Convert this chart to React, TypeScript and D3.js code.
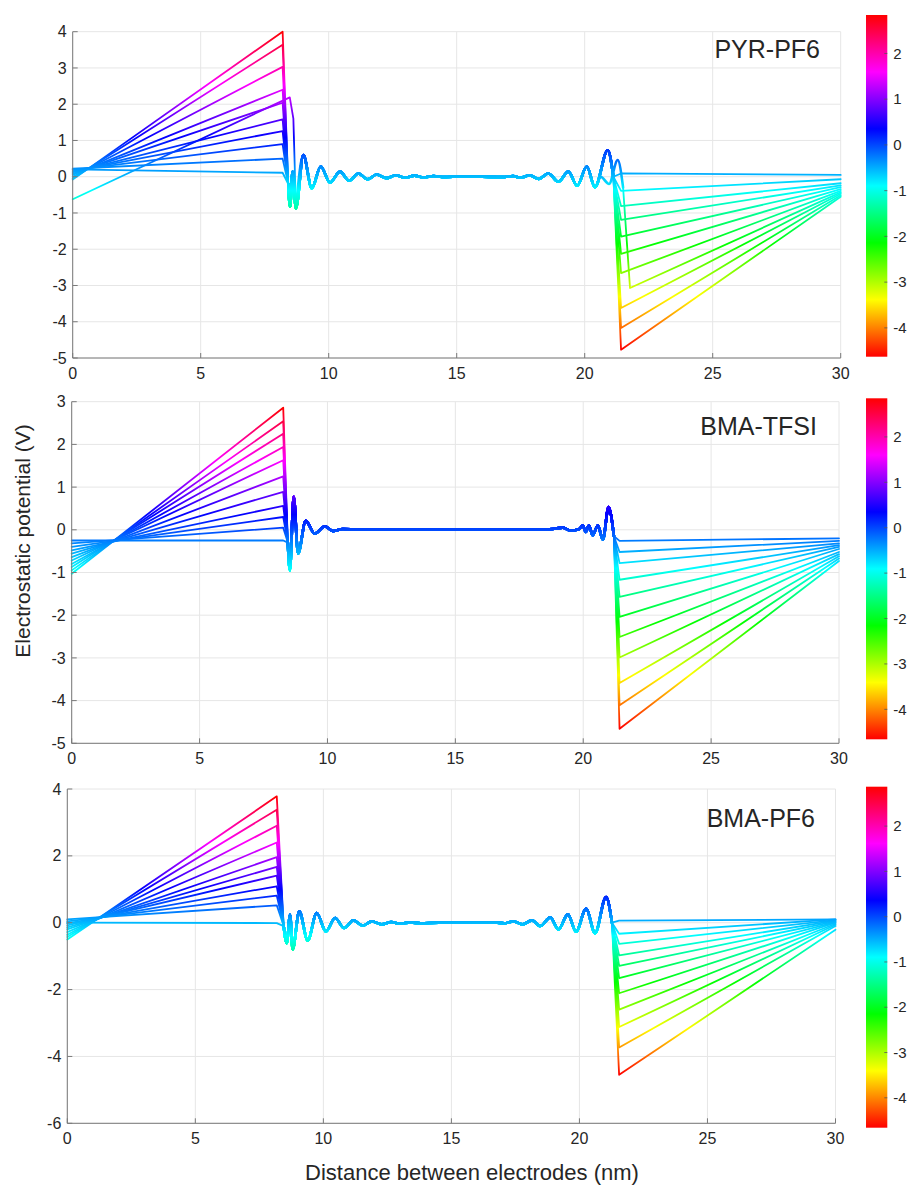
import React from "react";
import * as d3 from "d3";

type Pt = [number, number];

const xTicks = [0, 5, 10, 15, 20, 25, 30];
const cbTicks = [-4, -3, -2, -1, 0, 1, 2];

// PYR-PF6
const pyrStarts = [-0.08, -0.05, 0.0, 0.05, 0.08, 0.12, 0.15, 0.18, 0.22, 0.2];
const pyrPeaks = [4.0, 3.64, 3.03, 2.4, 2.04, 1.58, 1.26, 0.9, 0.5, 0.11];
const pyrValleys = [-4.77, -4.17, -3.62, -2.66, -2.13, -1.65, -1.19, -0.81, -0.39, 0.09];
const pyrEnds = [-0.55, -0.51, -0.47, -0.39, -0.34, -0.29, -0.24, -0.18, -0.07, 0.05];
const pyrLeftOsc: Pt[] = [
  [8.42, -0.2], [8.49, -0.83], [8.59, 0.14], [8.72, -0.87], [9.01, 0.6], [9.34, -0.32],
  [9.69, 0.28], [10.05, -0.16], [10.44, 0.14], [10.8, -0.11], [11.16, 0.09], [11.52, -0.07],
  [11.87, 0.06], [12.26, -0.04], [12.62, 0.04], [12.98, -0.03], [13.35, 0.03], [13.7, -0.02],
  [14.1, 0.02], [14.5, -0.01], [15.2, 0.01], [16.0, 0.0],
];
const pyrRightOsc: Pt[] = [
  [16.8, -0.01], [17.2, 0.02], [17.5, -0.03], [17.85, 0.04], [18.2, -0.06], [18.58, 0.09],
  [18.97, -0.14], [19.36, 0.14], [19.71, -0.25], [20.08, 0.28], [20.4, -0.29], [20.9, 0.73],
  [21.12, 0.0],
];
// the one shifted curve of PYR-PF6 (peak near 8.5 nm, valley near 21.8 nm)
const pyrOddStart: Pt[] = [[0, -0.62], [8.48, 2.19], [8.62, 1.6]];
const pyrOddOsc: Pt[] = [[20.62, 0.0], [20.95, -0.2], [21.29, 0.46], [21.5, -0.3]];
const pyrOddEnd: Pt[] = [[21.77, -3.07], [30, -0.43]];

// BMA-TFSI
const tfsiStarts = [-1.03, -0.95, -0.87, -0.8, -0.72, -0.64, -0.56, -0.48, -0.4, -0.32, -0.25];
const tfsiPeaks = [2.86, 2.54, 2.25, 1.94, 1.63, 1.25, 0.89, 0.56, 0.3, 0.05, -0.25];
const tfsiValleys = [-4.66, -4.11, -3.59, -2.99, -2.51, -2.04, -1.57, -1.17, -0.78, -0.52, -0.26];
const tfsiEnds = [-0.73, -0.67, -0.62, -0.57, -0.52, -0.45, -0.4, -0.36, -0.32, -0.26, -0.2];
const tfsiLeftOsc: Pt[] = [
  [8.45, -0.3], [8.53, -0.95], [8.68, 0.78], [8.85, -0.56], [9.15, 0.21], [9.5, -0.09],
  [9.9, 0.08], [10.22, -0.03], [10.6, 0.02], [11.2, 0.0], [12, 0.01], [13, 0.0], [14, 0.01],
  [15, 0.0], [16, 0.0],
];
const tfsiRightOsc: Pt[] = [
  [17, 0.01], [18, 0.0], [18.8, 0.02], [19.2, 0.05], [19.5, -0.02], [19.85, 0.02], [19.98, 0.1],
  [20.1, -0.05], [20.22, 0.1], [20.37, -0.13], [20.57, 0.1], [20.77, -0.23], [20.99, 0.53],
  [21.2, -0.15],
];

// BMA-PF6
const pf6Starts = [-0.5, -0.43, -0.36, -0.28, -0.2, -0.14, -0.08, -0.02, 0.04, 0.1, 0.0];
const pf6Peaks = [3.78, 3.38, 2.9, 2.4, 1.96, 1.67, 1.41, 1.09, 0.81, 0.52, -0.01];
const pf6Valleys = [-4.55, -3.73, -3.12, -2.6, -2.11, -1.66, -1.29, -0.98, -0.63, -0.33, 0.06];
const pf6Ends = [-0.21, -0.1, -0.06, -0.03, 0.0, 0.02, 0.04, 0.06, 0.08, 0.1, 0.1];
const pf6LeftOsc: Pt[] = [
  [8.45, -0.1], [8.57, -0.61], [8.7, 0.24], [8.8, -0.8], [9.06, 0.34], [9.39, -0.53],
  [9.74, 0.29], [10.1, -0.26], [10.46, 0.14], [10.81, -0.16], [11.17, 0.07], [11.54, -0.09],
  [11.89, 0.04], [12.28, -0.05], [12.65, 0.02], [13.0, -0.03], [13.4, 0.01], [13.8, -0.02],
  [14.5, 0.0], [15.3, 0.0], [16.0, 0.01],
];
const pf6RightOsc: Pt[] = [
  [16.7, 0.01], [17.06, -0.02], [17.42, 0.04], [17.78, -0.05], [18.14, 0.07], [18.47, -0.1],
  [18.86, 0.16], [19.18, -0.2], [19.55, 0.25], [19.87, -0.27], [20.26, 0.42], [20.61, -0.31],
  [21.04, 0.77], [21.27, 0.0],
];

// each curve: straight ramp in, smooth oscillating middle, straight ramp out
type Curve = { start: Pt[]; osc: Pt[]; end: Pt[] };

function makeCurves(
  starts: number[], peaks: number[], valleys: number[], ends: number[],
  peakX: number, valleyX: number, left: Pt[], right: Pt[]
): Curve[] {
  const osc = [...left, ...right];
  return peaks.map((p, i) => ({
    start: [[0, starts[i]], [peakX, p], osc[0]],
    osc,
    end: [osc[osc.length - 1], [valleyX, valleys[i]], [30, ends[i]]],
  }));
}

const pyrCurves = makeCurves(pyrStarts, pyrPeaks, pyrValleys, pyrEnds, 8.2, 21.42, pyrLeftOsc, pyrRightOsc);
{
  const osc = [
    ...pyrLeftOsc.filter((d) => d[0] >= 8.72),
    ...pyrRightOsc.filter((d) => d[0] <= 20.4),
    ...pyrOddOsc,
  ];
  pyrCurves.splice(4, 0, {
    start: [...pyrOddStart, osc[0]],
    osc,
    end: [osc[osc.length - 1], ...pyrOddEnd],
  });
}

const panels = [
  {
    id: "p1", name: "PYR-PF6",
    box: { left: 72.7, right: 840.7, top: 31.7, bottom: 358 },
    yDomain: [-5, 4], yTicks: [-5, -4, -3, -2, -1, 0, 1, 2, 3, 4],
    cb: { top: 15, bottom: 356.7, domain: [-4.63, 2.84] },
    title: { x: 820, y: 58 },
    curves: pyrCurves,
  },
  {
    id: "p2", name: "BMA-TFSI",
    box: { left: 71.7, right: 839, top: 401.7, bottom: 743.3 },
    yDomain: [-5, 3], yTicks: [-5, -4, -3, -2, -1, 0, 1, 2, 3],
    cb: { top: 398.3, bottom: 739.3, domain: [-4.66, 2.85] },
    title: { x: 817, y: 435 },
    curves: makeCurves(tfsiStarts, tfsiPeaks, tfsiValleys, tfsiEnds, 8.27, 21.42, tfsiLeftOsc, tfsiRightOsc),
  },
  {
    id: "p3", name: "BMA-PF6",
    box: { left: 67.3, right: 835.5, top: 789, bottom: 1123.3 },
    yDomain: [-6, 4], yTicks: [-6, -4, -2, 0, 2, 4],
    cb: { top: 786.7, bottom: 1127.7, domain: [-4.66, 2.87] },
    title: { x: 815, y: 826.7 },
    curves: makeCurves(pf6Starts, pf6Peaks, pf6Valleys, pf6Ends, 8.18, 21.55, pf6LeftOsc, pf6RightOsc),
  },
];

// MATLAB hsv colormap, top (high) to bottom (low)
const hsvStops = ["#ff0000", "#ff00ff", "#0000ff", "#00ffff", "#00ff00", "#ffff00", "#ff0000"];
const font = "'Liberation Sans', Arial, Helvetica, sans-serif";
const textColor = "#262626";
const axisColor = "#7a7a7a";
const gridColor = "#e6e6e6";

function Panel({ cfg }: { cfg: (typeof panels)[number] }) {
  const { id, box, yDomain, yTicks, cb, curves, title, name } = cfg;
  const x = d3.scaleLinear().domain([0, 30]).range([box.left, box.right]);
  const y = d3.scaleLinear().domain(yDomain).range([box.bottom, box.top]);
  const vals = curves.flatMap((c) => [...c.start, ...c.osc, ...c.end]).map((d) => d[1]);
  const lo = d3.min(vals) as number;
  const hi = d3.max(vals) as number;
  const straight = d3.line<Pt>().x((d) => x(d[0])).y((d) => y(d[1]));
  const smooth = d3
    .line<Pt>()
    .x((d) => x(d[0]))
    .y((d) => y(d[1]))
    .curve(d3.curveMonotoneX);
  const cbY = d3.scaleLinear().domain(cb.domain).range([cb.bottom, cb.top]);
  const cbLeft = 866;
  const cbRight = 887.3;
  const stroke = `url(#${id}-line)`;

  return (
    <g>
      <defs>
        <linearGradient id={`${id}-line`} gradientUnits="userSpaceOnUse" x1={0} x2={0} y1={y(hi)} y2={y(lo)}>
          {hsvStops.map((c, i) => (
            <stop key={i} offset={i / 6} stopColor={c} />
          ))}
        </linearGradient>
        <linearGradient id={`${id}-cb`} x1={0} x2={0} y1={0} y2={1}>
          {hsvStops.map((c, i) => (
            <stop key={i} offset={i / 6} stopColor={c} />
          ))}
        </linearGradient>
      </defs>

      {/* grid */}
      {xTicks.map((t) => (
        <line key={`gx${t}`} x1={x(t)} x2={x(t)} y1={box.top} y2={box.bottom} stroke={gridColor} />
      ))}
      {yTicks.map((t) => (
        <line key={`gy${t}`} x1={box.left} x2={box.right} y1={y(t)} y2={y(t)} stroke={gridColor} />
      ))}

      {/* curves */}
      {curves.map((c, i) => (
        <g key={i} fill="none" stroke={stroke} strokeLinejoin="round" strokeLinecap="round">
          <path d={straight(c.start) ?? ""} strokeWidth={1.8} />
          <path d={smooth(c.osc) ?? ""} strokeWidth={2.6} />
          <path d={straight(c.end) ?? ""} strokeWidth={1.8} />
        </g>
      ))}

      {/* axes */}
      <line x1={box.left} x2={box.left} y1={box.top} y2={box.bottom} stroke={axisColor} />
      <line x1={box.left} x2={box.right} y1={box.bottom} y2={box.bottom} stroke={axisColor} />
      {xTicks.map((t) => (
        <g key={`tx${t}`}>
          <line x1={x(t)} x2={x(t)} y1={box.bottom} y2={box.bottom - 5} stroke={axisColor} />
          <text x={x(t)} y={box.bottom + 21} textAnchor="middle" fontSize={16} fill={textColor} fontFamily={font}>
            {t}
          </text>
        </g>
      ))}
      {yTicks.map((t) => (
        <g key={`ty${t}`}>
          <line x1={box.left} x2={box.left + 5} y1={y(t)} y2={y(t)} stroke={axisColor} />
          <text x={box.left - 6} y={y(t)} dy="0.35em" textAnchor="end" fontSize={16} fill={textColor} fontFamily={font}>
            {String(t)}
          </text>
        </g>
      ))}

      <text x={title.x} y={title.y} textAnchor="end" fontSize={25} fill={textColor} fontFamily={font}>
        {name}
      </text>

      {/* colorbar */}
      <rect x={cbLeft} y={cb.top} width={cbRight - cbLeft} height={cb.bottom - cb.top} fill={`url(#${id}-cb)`} />
      {cbTicks.map((t) => (
        <g key={`cb${t}`}>
          <line x1={cbRight - 3} x2={cbRight} y1={cbY(t)} y2={cbY(t)} stroke="#555" strokeWidth={0.8} />
          <text x={cbRight + 6} y={cbY(t)} dy="0.35em" fontSize={15} fill={textColor} fontFamily={font}>
            {String(t)}
          </text>
        </g>
      ))}
    </g>
  );
}

export default function App() {
  return (
    <svg
      width={907}
      height={1185}
      style={{ position: "absolute", left: 0, top: 0, background: "#fff" }}
    >
      <rect width={907} height={1185} fill="#fff" />
      {panels.map((p) => (
        <Panel key={p.id} cfg={p} />
      ))}
      <text
        transform="translate(30,541) rotate(-90)"
        textAnchor="middle"
        fontSize={21}
        fill={textColor}
        fontFamily={font}
      >
        Electrostatic potential (V)
      </text>
      <text x={472} y={1180} textAnchor="middle" fontSize={22} fill={textColor} fontFamily={font}>
        Distance between electrodes (nm)
      </text>
    </svg>
  );
}
